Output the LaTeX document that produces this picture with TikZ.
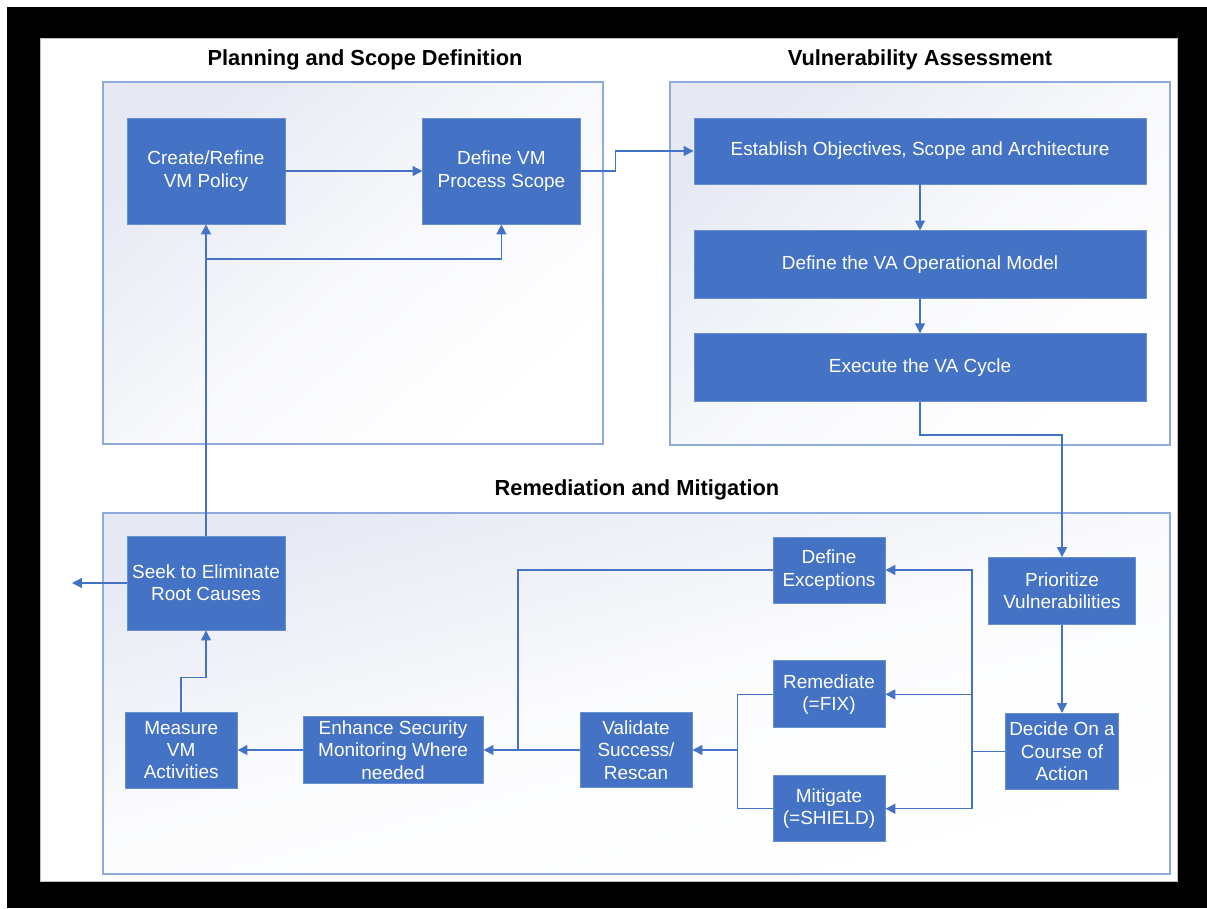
\documentclass[tikz,border=0pt]{standalone}
\usepackage{fontspec}
\setmainfont{Liberation Sans}
\usetikzlibrary{positioning,arrows.meta}
\definecolor{boxblue}{HTML}{4472C4}
\definecolor{grpline}{HTML}{8FAADC}
\definecolor{grpfill}{HTML}{E6E9F3}

\begin{document}
\begin{tikzpicture}[x=0.025cm, y=-0.025cm,
    every node/.style={font=\fontsize{13.5}{15.8}\selectfont},
    task/.style={draw=boxblue!80!white, line width=0.6pt, fill=boxblue, text=white, align=center, inner sep=1pt},
    grouptitle/.style={font=\bfseries\fontsize{15.5}{18}\selectfont},
    link/.style={draw=boxblue, line width=1pt},
    arr/.style={link, -{Triangle[length=7pt, width=7pt]}}]
    \useasboundingbox (0,0) rectangle (1207,908);
    \fill[white] (0,0) rectangle (1207,908);
    \fill[black] (7,7) rectangle (1207,908);
    \draw[fill=white, draw=black!25] (40,38) rectangle (1177,881);

    \shade[top color=grpfill, bottom color=white, middle color=white!70!grpfill, shading angle=40] (103,82) rectangle (603,444);
    \draw[grpline, line width=1pt] (103,82) rectangle (603,444);
    \shade[top color=grpfill, bottom color=white, middle color=white!70!grpfill, shading angle=40] (670,82) rectangle (1170,445);
    \draw[grpline, line width=1pt] (670,82) rectangle (1170,445);
    \shade[top color=grpfill, bottom color=white, middle color=white!85!grpfill, shading angle=15] (103,513) rectangle (1170,874);
    \draw[grpline, line width=1pt] (103,513) rectangle (1170,874);

    \node[grouptitle] (tplan) at (365,60) {Planning and Scope Definition};
    \node[grouptitle] (tva) at (920,60) {Vulnerability Assessment};
    \node[grouptitle] (trem) at (637,490) {Remediation and Mitigation};

    \node[task, minimum width=3.95cm, minimum height=2.65cm] (crt) at (206,171) {Create/Refine\\VM Policy};
    \node[task, minimum width=3.925cm, minimum height=2.65cm, right=3.425cm of crt] (scope) {Define VM\\Process Scope};

    \node[task, minimum width=11.3cm, minimum height=1.65cm] (estab) at (920,151) {Establish Objectives, Scope and Architecture};
    \node[task, minimum width=11.3cm, minimum height=1.7cm, below=1.15cm of estab] (opmodel) {Define the VA Operational Model};
    \node[task, minimum width=11.3cm, minimum height=1.7cm, below=0.85cm of opmodel] (exec) {Execute the VA Cycle};

    \node[task, minimum width=3.675cm, minimum height=1.675cm] (prio) at (1062,591) {Prioritize\\Vulnerabilities};
    \node[task, minimum width=2.825cm, minimum height=1.9cm, below=2.2cm of prio] (decide) {Decide On a\\Course of\\Action};
    \node[task, minimum width=2.8cm, minimum height=1.65cm] (exc) at (829,570) {Define\\Exceptions};
    \node[task, minimum width=2.8cm, minimum height=1.675cm, below=1.425cm of exc] (rem) {Remediate\\(=FIX)};
    \node[task, minimum width=2.8cm, minimum height=1.65cm, below=1.175cm of rem] (mit) {Mitigate\\(=SHIELD)};
    \node[task, minimum width=2.8cm, minimum height=1.875cm] (val) at (636,750) {Validate\\Success/\\Rescan};
    \node[task, minimum width=4.5cm, minimum height=1.675cm, left=2.4cm of val] (enh) {Enhance Security\\Monitoring Where\\needed};
    \node[task, minimum width=2.8cm, minimum height=1.9cm, left=1.625cm of enh] (meas) {Measure\\VM\\Activities};
    \node[task, minimum width=3.95cm, minimum height=2.35cm] (seek) at (206,583) {Seek to Eliminate\\Root Causes};

    \coordinate (branch) at (206,259);
    \coordinate (excdrop) at (518,750);
    \coordinate (exit) at (72,583);

    \draw[arr] (crt) -- (scope);
    \draw[arr] (scope.east) -- ++(35,0) |- (estab.west);
    \draw[arr] (estab) -- (opmodel);
    \draw[arr] (opmodel) -- (exec);
    \draw[arr] (exec.south) -- ++(0,33) -| (prio.north);
    \draw[arr] (prio) -- (decide);
    \draw[link] (decide.west) -- ++(-33,0) coordinate (split);
    \draw[arr] (split) |- (exc);
    \draw[arr] (split) |- (rem);
    \draw[arr] (split) |- (mit);
    \draw[link] (rem.west) -- ++(-35,0) coordinate (join) |- (mit.west);
    \draw[arr] (join |- val) -- (val);
    \draw[arr] (val) -- (enh);
    \draw[link] (exc.west) -| (excdrop);
    \draw[arr] (enh) -- (meas);
    \draw[arr] (meas.north) -- ++(0,-34) -| (seek.south);
    \draw[arr] (seek) -- (exit);
    \draw[arr] (seek) -- (crt);
    \draw[arr] (branch) -| (scope.south);
\end{tikzpicture}
\end{document}
